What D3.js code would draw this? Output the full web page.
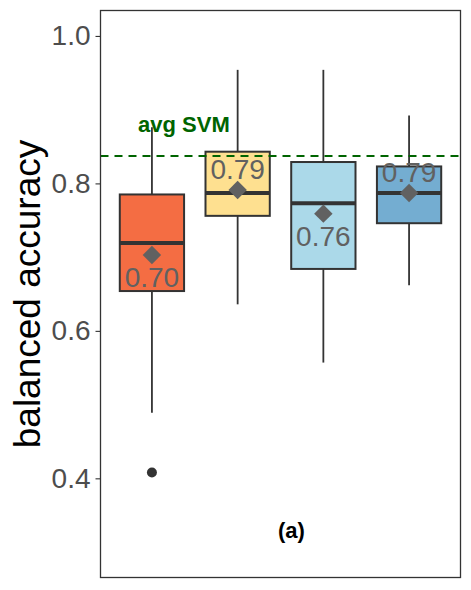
<!DOCTYPE html>
<html>
<head>
<meta charset="utf-8">
<script src="https://cdn.jsdelivr.net/npm/d3@7"></script>
<style>
  body { margin: 0; background: #fff; }
  svg { display: block; font-family: "Liberation Sans", Arial, Helvetica, sans-serif; }
</style>
</head>
<body>
<div class="chart"></div>
<script>
const models = ['m1', 'm2', 'm3', 'm4'];
const fills = ['#F46D43', '#FEE090', '#ABD9E9', '#74ADD1'];
const whiskerLow = [0.489, 0.636, 0.557, 0.662];
const q1 = [0.654, 0.756, 0.684, 0.746];
const medians = [0.719, 0.787, 0.773, 0.787];
const q3 = [0.785, 0.843, 0.829, 0.823];
const whiskerHigh = [0.876, 0.954, 0.954, 0.892];
const means = [0.703, 0.791, 0.759, 0.787];
const outliers = [{ model: 'm1', value: 0.408 }];
const avgSvm = 0.837;
const yTicks = [0.4, 0.6, 0.8, 1.0];

const margin = { top: 10.5, right: 10.5, bottom: 12.5, left: 100.5 };
const width = 471 - margin.left - margin.right;
const height = 590 - margin.top - margin.bottom;

const svg = d3.select('.chart')
  .append('svg')
  .attr('width', 471)
  .attr('height', 590)
  .append('g')
  .attr('transform', `translate(${margin.left},${margin.top})`);

const x = d3.scalePoint()
  .domain(models)
  .range([0, width])
  .padding(0.6);

const y = d3.scaleLinear()
  .domain([0.2655, 1.0345])
  .range([height, 0]);

const boxWidth = x.step() * 0.75;

const boxes = models.map((m, i) => ({
  model: m, fill: fills[i], lo: whiskerLow[i], q1: q1[i], med: medians[i],
  q3: q3[i], hi: whiskerHigh[i], mean: means[i], i
}));

// y axis
const yAxis = svg.append('g')
  .call(d3.axisLeft(y).tickValues(yTicks).tickFormat(d3.format('.1f')).tickSize(5).tickPadding(5));
yAxis.select('.domain').remove();
yAxis.selectAll('line').attr('stroke', '#333').attr('stroke-width', 1.1);
yAxis.selectAll('text')
  .attr('fill', '#4D4D4D')
  .style('font-size', '28px')
  .style('font-family', '"Liberation Sans", Arial, sans-serif');

svg.append('text')
  .attr('transform', `translate(${40 - margin.left},${height / 2}) rotate(-90)`)
  .attr('text-anchor', 'middle')
  .attr('fill', '#000')
  .style('font-size', '37px')
  .text('balanced accuracy');

// reference label
svg.append('text')
  .attr('x', x('m1') + 32)
  .attr('y', y(avgSvm) - 24)
  .attr('text-anchor', 'middle')
  .attr('fill', '#006400')
  .style('font-size', '22px')
  .style('font-weight', 'bold')
  .text('avg SVM');

const g = svg.selectAll('.box')
  .data(boxes)
  .enter()
  .append('g')
  .attr('class', 'box');

g.append('line')
  .attr('x1', d => x(d.model)).attr('x2', d => x(d.model))
  .attr('y1', d => y(d.hi)).attr('y2', d => y(d.q3))
  .attr('stroke', '#333').attr('stroke-width', 1.8);

g.append('line')
  .attr('x1', d => x(d.model)).attr('x2', d => x(d.model))
  .attr('y1', d => y(d.q1)).attr('y2', d => y(d.lo))
  .attr('stroke', '#333').attr('stroke-width', 1.8);

g.append('rect')
  .attr('x', d => x(d.model) - boxWidth / 2)
  .attr('width', boxWidth)
  .attr('y', d => y(d.q3))
  .attr('height', d => y(d.q1) - y(d.q3))
  .attr('fill', d => d.fill)
  .attr('stroke', '#333')
  .attr('stroke-width', 2);

g.append('line')
  .attr('x1', d => x(d.model) - boxWidth / 2).attr('x2', d => x(d.model) + boxWidth / 2)
  .attr('y1', d => y(d.med)).attr('y2', d => y(d.med))
  .attr('stroke', '#333').attr('stroke-width', 4);

svg.selectAll('.outlier')
  .data(outliers)
  .enter()
  .append('circle')
  .attr('class', 'outlier')
  .attr('cx', d => x(d.model))
  .attr('cy', d => y(d.value))
  .attr('r', 5)
  .attr('fill', '#333');

svg.append('line')
  .attr('x1', 0).attr('x2', width)
  .attr('y1', y(avgSvm)).attr('y2', y(avgSvm))
  .attr('stroke', '#006400')
  .attr('stroke-width', 2)
  .attr('stroke-dasharray', '8,6');

// means
const diamond = d3.symbol().type(d3.symbolSquare).size(170);
g.append('path')
  .attr('d', diamond)
  .attr('transform', d => `translate(${x(d.model)},${y(d.mean)}) rotate(45)`)
  .attr('fill', '#616161');

g.append('text')
  .attr('x', d => x(d.model))
  .attr('y', d => y(d.mean) + (d.i % 2 === 0 ? 32 : -11))
  .attr('text-anchor', 'middle')
  .attr('fill', '#616161')
  .style('font-size', '28px')
  .text(d => d3.format('.2f')(d.mean));

svg.append('text')
  .attr('x', (x('m2') + x('m3')) / 2 + 11)
  .attr('y', 538 - margin.top)
  .attr('text-anchor', 'middle')
  .attr('fill', '#000')
  .style('font-size', '22px')
  .style('font-weight', 'bold')
  .text('(a)');

svg.append('rect')
  .attr('width', width)
  .attr('height', height)
  .attr('fill', 'none')
  .attr('stroke', '#333')
  .attr('stroke-width', 1.3);
</script>
</body>
</html>
